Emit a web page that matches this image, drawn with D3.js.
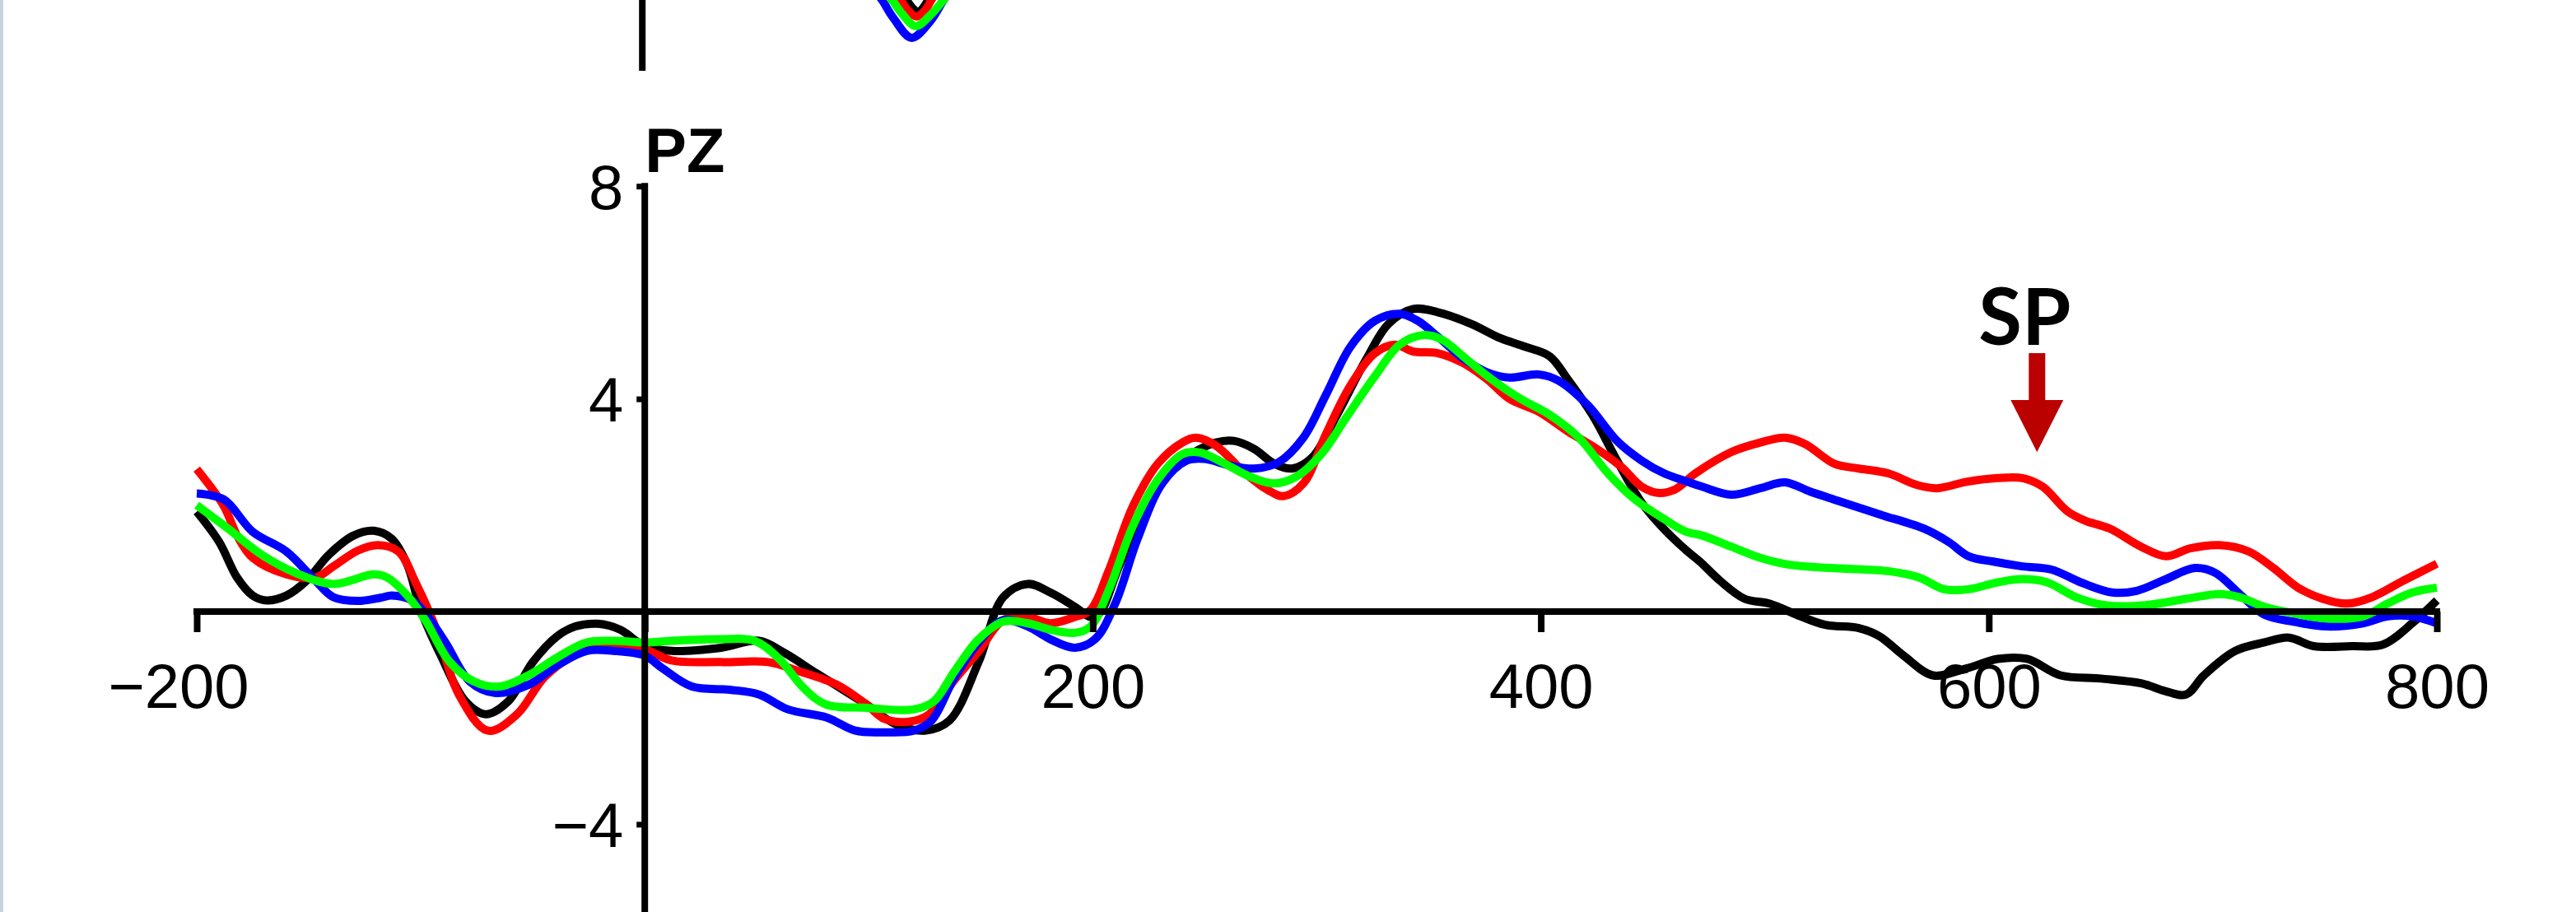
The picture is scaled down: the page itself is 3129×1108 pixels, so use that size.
<!DOCTYPE html>
<html><head><meta charset="utf-8">
<script src="https://cdn.jsdelivr.net/npm/d3@7"></script>
<style>html,body{margin:0;padding:0;background:#fff;overflow:hidden}</style>
</head><body>
<svg id="c" width="3129" height="1108" xmlns="http://www.w3.org/2000/svg"></svg>
<script>
// ---- data (time ms, amplitude µV) ----
const xTickValues = [-200, 0, 200, 400, 600, 800];
const yTickValues = [8, 4, -4];
const channelLabel = "PZ";
const annotationLabel = "SP";
const spTime = 621.5, spTipValue = 3.0, spTopValue = 4.86;

const black = [[-200,1.88],[-190,1.31],[-182,0.64],[-175,0.30],[-169,0.21],[-160,0.30],[-151,0.58],[-141,1.07],[-130,1.43],[-121,1.52],[-113,1.37],[-106,0.88],[-100,0.03],[-91,-0.83],[-80,-1.69],[-71,-1.93],[-61,-1.69],[-50,-0.95],[-39,-0.46],[-31,-0.28],[-21,-0.23],[-11,-0.34],[0,-0.65],[12,-0.74],[34,-0.68],[51,-0.55],[62,-0.77],[77,-1.17],[99,-1.75],[112,-2.12],[125,-2.24],[136,-2.05],[149,-0.95],[160,0.27],[171,0.52],[181,0.36],[192,0.09],[199,-0.10],[203,-0.03],[212,0.88],[229,2.41],[244,2.96],[255,3.18],[263,3.21],[272,3.06],[281,2.78],[289,2.69],[298,2.90],[309,3.7],[322,4.74],[332,5.41],[343,5.69],[354,5.63],[369,5.41],[382,5.14],[393,4.98],[404,4.80],[412,4.37],[423,3.70],[434,2.84],[445,2.05],[455,1.55],[465,1.15],[471,0.94],[480,0.58],[491,0.24],[502,0.15],[516,-0.09],[527,-0.25],[542,-0.31],[551,-0.46],[562,-0.83],[575,-1.2],[590,-1.07],[604,-0.89],[617,-0.89],[632,-1.2],[650,-1.26],[668,-1.35],[679,-1.5],[688,-1.56],[696,-1.2],[710,-0.74],[723,-0.58],[734,-0.49],[745,-0.65],[762,-0.65],[776,-0.62],[789,-0.22],[800,0.21]];

const red = [[-200,2.68],[-188,1.99],[-182,1.43],[-175,1.01],[-160,0.70],[-147,0.64],[-139,0.85],[-128,1.15],[-119,1.25],[-110,1.13],[-102,0.52],[-93,-0.34],[-83,-1.56],[-70,-2.24],[-57,-1.93],[-44,-1.20],[-26,-0.71],[-10,-0.68],[0,-0.71],[12,-0.92],[34,-0.95],[55,-0.95],[68,-1.11],[86,-1.38],[99,-1.75],[107,-2.02],[118,-2.07],[127,-1.93],[138,-1.3],[149,-0.75],[160,-0.16],[171,-0.10],[181,-0.22],[192,-0.10],[199,0.03],[207,0.76],[218,1.99],[229,2.78],[240,3.18],[246,3.27],[255,3.12],[268,2.60],[278,2.29],[285,2.17],[294,2.41],[304,3.33],[315,4.25],[326,4.86],[335,5.02],[343,4.89],[354,4.86],[365,4.68],[376,4.37],[386,4.0],[399,3.76],[412,3.39],[425,3.06],[436,2.72],[445,2.35],[453,2.23],[460,2.3],[469,2.6],[485,3.0],[498,3.18],[509,3.27],[518,3.15],[531,2.78],[542,2.69],[555,2.6],[568,2.38],[577,2.32],[590,2.44],[604,2.51],[615,2.51],[624,2.35],[635,1.89],[643,1.71],[654,1.56],[668,1.22],[679,1.04],[690,1.19],[703,1.25],[716,1.13],[727,0.82],[738,0.45],[749,0.24],[760,0.15],[771,0.27],[785,0.58],[800,0.9]];

const blue = [[-200,2.22],[-188,2.11],[-175,1.50],[-160,1.13],[-147,0.58],[-139,0.27],[-128,0.2],[-118,0.26],[-113,0.30],[-104,0.21],[-98,-0.03],[-89,-0.58],[-78,-1.32],[-67,-1.53],[-52,-1.38],[-39,-1.01],[-26,-0.74],[-14,-0.74],[0,-0.83],[8,-1.07],[21,-1.41],[38,-1.47],[51,-1.56],[64,-1.84],[81,-1.99],[94,-2.24],[107,-2.27],[120,-2.24],[128,-2.05],[138,-1.26],[149,-0.58],[160,-0.16],[171,-0.28],[181,-0.52],[192,-0.68],[201,-0.52],[210,0.15],[220,1.37],[231,2.41],[242,2.84],[250,2.87],[261,2.75],[272,2.69],[283,2.81],[294,3.27],[304,4.07],[315,4.98],[326,5.47],[337,5.6],[345,5.47],[354,5.17],[365,4.77],[376,4.5],[386,4.4],[399,4.46],[408,4.34],[421,3.88],[434,3.21],[445,2.84],[455,2.6],[465,2.45],[472,2.35],[485,2.2],[498,2.32],[509,2.43],[520,2.26],[533,2.08],[551,1.83],[571,1.56],[582,1.31],[591,1.04],[602,0.94],[615,0.85],[628,0.79],[641,0.55],[655,0.36],[666,0.39],[679,0.61],[692,0.82],[701,0.73],[712,0.33],[723,-0.06],[736,-0.19],[751,-0.28],[767,-0.22],[778,-0.09],[789,-0.09],[800,-0.22]];

const green = [[-200,2.0],[-186,1.56],[-171,1.07],[-156,0.73],[-139,0.52],[-121,0.70],[-115,0.64],[-106,0.30],[-98,-0.16],[-87,-0.95],[-76,-1.32],[-65,-1.41],[-52,-1.20],[-39,-0.86],[-26,-0.58],[-14,-0.55],[0,-0.58],[12,-0.55],[34,-0.52],[49,-0.55],[60,-0.89],[71,-1.44],[81,-1.75],[99,-1.81],[120,-1.84],[129,-1.69],[138,-1.14],[149,-0.52],[160,-0.19],[171,-0.22],[181,-0.34],[192,-0.4],[199,-0.28],[207,0.39],[218,1.62],[229,2.48],[240,2.96],[248,2.99],[259,2.78],[270,2.54],[281,2.41],[291,2.54],[302,2.96],[313,3.64],[326,4.43],[337,5.02],[348,5.2],[356,5.11],[367,4.74],[378,4.37],[391,4.0],[404,3.7],[417,3.27],[430,2.6],[442,2.11],[455,1.74],[465,1.5],[472,1.43],[485,1.22],[498,1.01],[511,0.88],[529,0.82],[555,0.76],[569,0.64],[580,0.42],[591,0.42],[604,0.55],[615,0.61],[626,0.55],[639,0.27],[652,0.12],[670,0.12],[688,0.24],[703,0.33],[712,0.27],[723,0.09],[736,-0.03],[751,-0.13],[767,-0.09],[778,0.15],[789,0.36],[800,0.45]];

// fragment of the panel above (only its lowest trough is visible)
const topBlack = [[116.5,-4.55],[118,-4.67],[120.6,-4.82],[123.1,-4.90],[125.3,-4.82],[127.6,-4.67],[129,-4.55]];
const topRed   = [[114,-4.55],[115.4,-4.67],[118.7,-4.87],[122.4,-4.98],[126.1,-4.87],[129,-4.67],[130.9,-4.55]];
const topBlue  = [[102.9,-4.45],[107,-4.67],[112.1,-5.01],[120.2,-5.38],[128.7,-5.06],[134.5,-4.67],[138.2,-4.45]];
const topGreen = [[106.6,-4.48],[111.4,-4.67],[115.8,-4.92],[122,-5.16],[128.7,-4.95],[134.5,-4.67],[138.2,-4.48]];

const seriesColors = {black:"#000000", red:"#ff0000", blue:"#0000ff", green:"#00ff00"};

// ---- drawing ----
const svg = d3.select("#c");
const FONT = "'Liberation Sans', Arial, sans-serif";
svg.append("rect").attr("width",3129).attr("height",1108).attr("fill","#fff");
svg.append("rect").attr("x",0).attr("y",0).attr("width",4).attr("height",1108).attr("fill","#c5d3df");

const x = d3.scaleLinear().domain([-200, 800]).range([239, 2960]);
const y = d3.scaleLinear().domain([8, -4]).range([226.2, 1001.4]);
const xTop = d3.scaleLinear().domain([-200, 800]).range([236, 2957]);
const yTop = d3.scaleLinear().domain([0, -6]).range([-302, 86]);

const line = d3.line().x(d => x(d[0])).y(d => y(d[1])).curve(d3.curveCatmullRom.alpha(0.5));
const lineTop = d3.line().x(d => xTop(d[0])).y(d => yTop(d[1])).curve(d3.curveCatmullRom.alpha(0.5));

// top panel fragment
const gTop = svg.append("g");
gTop.append("line").attr("x1", xTop(0)).attr("x2", xTop(0)).attr("y1", yTop(0)).attr("y2", yTop(-6))
  .attr("stroke","#000").attr("stroke-width",8);
[[topBlack,"black"],[topRed,"red"],[topBlue,"blue"],[topGreen,"green"]].forEach(([d,c]) => {
  gTop.append("path").attr("d", lineTop(d)).attr("fill","none")
    .attr("stroke", seriesColors[c]).attr("stroke-width", 10).attr("stroke-linejoin","round");
});

// main traces
const gLines = svg.append("g");
[[black,"black"],[red,"red"],[blue,"blue"],[green,"green"]].forEach(([d,c]) => {
  gLines.append("path").attr("d", line(d)).attr("fill","none")
    .attr("stroke", seriesColors[c]).attr("stroke-width", 10)
    .attr("stroke-linejoin","round").attr("stroke-linecap","butt");
});

// x axis
const xAxis = d3.axisBottom(x).tickValues(xTickValues).tickSize(25).tickSizeOuter(0)
  .tickFormat(d => d === 0 ? "" : (d < 0 ? "\u2212" + Math.abs(d) : String(d)));
const gx = svg.append("g").attr("transform", `translate(0,${y(0)})`).call(xAxis);
gx.select(".domain").attr("stroke","#000").attr("stroke-width",8)
  .attr("d", `M${x(-200)-4},0H${x(800)+4}`);
gx.selectAll(".tick line").attr("stroke","#000").attr("stroke-width",8);
gx.selectAll(".tick text").attr("fill","#000").attr("font-family",FONT).attr("font-size",76)
  .attr("y",117).attr("dy",0);
gx.selectAll(".tick text").filter(d => d < 0).attr("text-anchor","end").attr("x",63);

// y axis
svg.append("line").attr("x1", x(0)).attr("x2", x(0)).attr("y1", y(8)).attr("y2", y(-6))
  .attr("stroke","#000").attr("stroke-width",8).attr("stroke-linecap","square");
const yAxis = d3.axisLeft(y).tickValues(yTickValues).tickSize(10).tickSizeOuter(0).tickPadding(16)
  .tickFormat(d => d < 0 ? "\u2212" + Math.abs(d) : String(d));
const gy = svg.append("g").attr("transform", `translate(${x(0)},0)`).call(yAxis);
gy.select(".domain").remove();
gy.selectAll(".tick line").attr("stroke","#000").attr("stroke-width",7);
gy.selectAll(".tick text").attr("fill","#000").attr("font-family",FONT).attr("font-size",76).attr("dy","0.36em");

// channel label
svg.append("text").attr("x", x(0)).attr("y", y(8) - 17).text(channelLabel)
  .attr("font-family",FONT).attr("font-weight","bold").attr("font-size",76).attr("fill","#000");

// SP annotation
svg.append("text").attr("x", x(spTime) - 15).attr("y", y(spTopValue) - 10).text(annotationLabel)
  .attr("text-anchor","middle").attr("font-family","Lato, 'Open Sans', sans-serif")
  .attr("font-weight","bold").attr("font-size",96).attr("fill","#000");
const ax = x(spTime), headBase = y(3.98);
svg.append("rect").attr("x", ax - 10).attr("y", y(spTopValue)).attr("width",20)
  .attr("height", headBase - y(spTopValue) + 1).attr("fill","#bb0000");
svg.append("path").attr("d", `M${ax-32},${headBase}L${ax+32},${headBase}L${ax},${y(spTipValue)}Z`)
  .attr("fill","#bb0000");
</script>
</body></html>
